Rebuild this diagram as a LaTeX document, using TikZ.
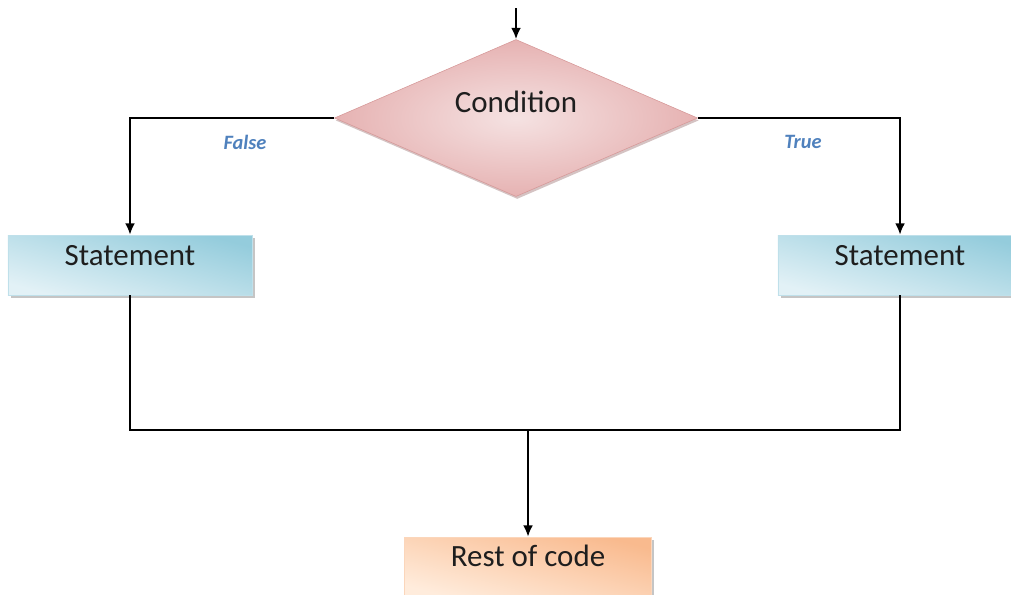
\documentclass[tikz,border=0pt]{standalone}
\usepackage{fontspec}
\setmainfont{Carlito}
\usetikzlibrary{arrows.meta,shapes.geometric,shadows}
\definecolor{condpink}{RGB}{230,178,178}
\definecolor{condlight}{RGB}{245,226,226}
\definecolor{condedge}{RGB}{214,152,152}
\definecolor{stmtblue}{RGB}{148,204,220}
\definecolor{stmtlight}{RGB}{226,241,246}
\definecolor{restorange}{RGB}{249,186,142}
\definecolor{restlight}{RGB}{255,236,220}
\definecolor{branchblue}{RGB}{79,129,189}
\definecolor{textgrey}{RGB}{30,30,30}

\begin{document}
\begin{tikzpicture}[x=0.025cm, y=-0.025cm,
    flow/.style={line width=1.5pt, black},
    arrow/.style={flow, -{Latex[length=8pt,width=7pt]}},
    boxshadow/.style={drop shadow={shadow xshift=0.07cm, shadow yshift=-0.07cm, fill=black!45, opacity=0.5}},
    decision/.style={diamond, minimum width=9.075cm, minimum height=3.925cm, inner sep=0pt,
        draw=condedge, inner color=condlight, outer color=condpink,
        drop shadow={shadow xshift=0.03cm, shadow yshift=-0.06cm, fill=condedge!70!black, opacity=0.4}},
    stmtbox/.style={rectangle, minimum width=6.1cm, minimum height=1.5cm, draw=stmtblue!60,
        top color=stmtblue, bottom color=stmtlight, shading angle=-15, boxshadow},
    restbox/.style={rectangle, minimum width=6.175cm, minimum height=1.5cm, draw=restorange!60,
        top color=restorange, bottom color=restlight, shading angle=-15, boxshadow},
    boxtext/.style={font=\fontsize{22}{26}\selectfont, text=textgrey},
    branch/.style={font=\fontsize{14.5}{17}\selectfont\bfseries\itshape, text=branchblue}]
    \useasboundingbox (0,0) rectangle (1011,594);
    \clip (0,0) rectangle (1011,594);

    % Decision
    \node[decision, label={[boxtext, yshift=0.41cm]center:Condition}] (cond) at (516,118) {};
    \coordinate (entry) at (516,8);
    \draw[arrow] (entry) -- (cond.north);

    % Branches
    \node[stmtbox, label={[boxtext, yshift=0.225cm]center:Statement}] (lstmt) at (130,265) {};
    \node[stmtbox, label={[boxtext, yshift=0.225cm]center:Statement}] (rstmt) at (900,265) {};
    \draw[arrow] (cond.west) -| (lstmt.north);
    \draw[arrow] (cond.east) -| (rstmt.north);
    \node[branch] (falselbl) at (245,142) {False};
    \node[branch] (truelbl) at (803,142) {True};

    % Merge
    \node[restbox, label={[boxtext, yshift=0.28cm]center:Rest of code}] (rest) at (528,567) {};
    \coordinate (merge) at (528,430);
    \draw[flow] (lstmt.south) |- (merge);
    \draw[flow] (rstmt.south) |- (merge);
    \draw[arrow] (merge) -- (rest.north);
\end{tikzpicture}
\end{document}
